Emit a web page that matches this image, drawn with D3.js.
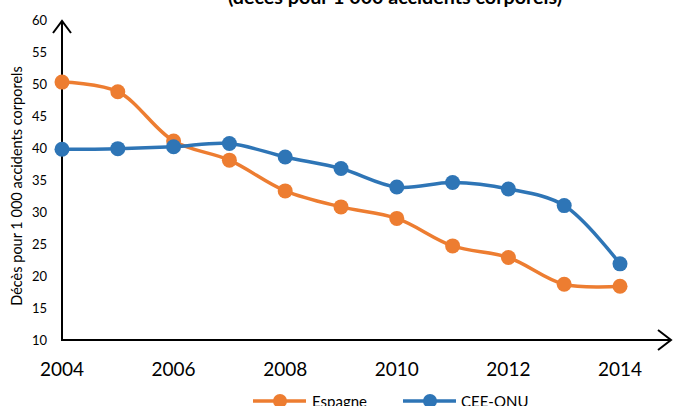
<!DOCTYPE html>
<html><head><meta charset="utf-8">
<script src="https://cdn.jsdelivr.net/npm/d3@7"></script>
<style>body{margin:0;background:#fff}svg{display:block}text{font-family:Lato,"Open Sans",sans-serif}</style>
</head><body><svg id="c" width="675" height="406"></svg>
<script>
const years = [2004,2005,2006,2007,2008,2009,2010,2011,2012,2013,2014];
const espagne = [50.3,48.8,41.1,38.1,33.3,30.8,29.0,24.7,22.9,18.7,18.4];
const ceeOnu = [39.8,39.9,40.2,40.7,38.6,36.8,33.9,34.6,33.6,31.0,21.9];
const xTicks = [2004,2006,2008,2010,2012,2014];
const yTicks = [10,15,20,25,30,35,40,45,50,55,60];
const seriesNames = ["Espagne","CEE-ONU"];
const colors = ["#ED7D31","#2E75B6"];
const title = "(décès pour 1 000 accidents corporels)";
const yTitle = "Décès pour 1 000 accidents corporels";

const svg = d3.select("#c");
const x = d3.scaleLinear().domain([2004,2014]).range([62,620]);
const y = d3.scaleLinear().domain([10,60]).range([340,20]);

svg.append("text").attr("x",395).attr("y",4).attr("text-anchor","middle")
  .attr("font-size",19.7).attr("font-weight","bold").text(title);

// axes lines with arrows
const ax = svg.append("g").attr("stroke","#000").attr("stroke-width",2).attr("fill","none");
ax.append("line").attr("x1",62).attr("y1",341).attr("x2",62).attr("y2",22);
ax.append("path").attr("d","M53,33 L62,21 L71,33");
ax.append("line").attr("x1",61).attr("y1",340).attr("x2",671).attr("y2",340);
ax.append("path").attr("d","M658,330 L671,340 L658,350");

// y tick labels
svg.append("g").selectAll("text").data(yTicks).join("text")
  .attr("x",47).attr("y",d=>y(d)).attr("dy","0.35em").attr("text-anchor","end")
  .attr("font-size",13).text(d=>d);
// x tick labels
svg.append("g").selectAll("text").data(xTicks).join("text")
  .attr("x",d=>x(d)).attr("y",376).attr("text-anchor","middle")
  .attr("font-size",19).text(d=>d);

svg.append("text").attr("transform","translate(22,186) rotate(-90)")
  .attr("text-anchor","middle").attr("font-size",14.5).text(yTitle);

const line = d3.line().x(d=>x(d[0])).y(d=>y(d[1])).curve(d3.curveCatmullRom.alpha(0.5));
[espagne, ceeOnu].forEach((vals,i)=>{
  const pts = years.map((yr,j)=>[yr,vals[j]]);
  const g = svg.append("g");
  g.append("path").attr("d",line(pts)).attr("fill","none").attr("stroke",colors[i]).attr("stroke-width",3.5);
  g.selectAll("circle").data(pts).join("circle").attr("cx",d=>x(d[0])).attr("cy",d=>y(d[1]))
    .attr("r",7.5).attr("fill",colors[i]);
});

// legend
const leg = [{x:253,tx:312},{x:403,tx:461}];
seriesNames.forEach((n,i)=>{
  const L = leg[i];
  svg.append("line").attr("x1",L.x).attr("x2",L.x+53).attr("y1",401).attr("y2",401)
    .attr("stroke",colors[i]).attr("stroke-width",3.5);
  svg.append("circle").attr("cx",L.x+27).attr("cy",401).attr("r",7).attr("fill",colors[i]);
  svg.append("text").attr("x",L.tx).attr("y",407).attr("font-size",15).text(n);
});
</script></body></html>
